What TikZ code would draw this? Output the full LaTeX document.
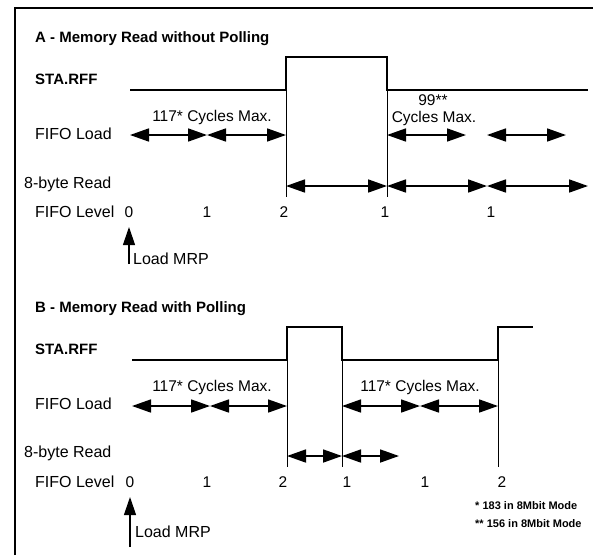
\documentclass[tikz,border=0pt]{standalone}
\usepackage{fontspec}
\setmainfont{Liberation Sans}
\usetikzlibrary{arrows.meta}
\begin{document}
\begin{tikzpicture}[x=1pt,y=-1pt,
  lbl/.style={anchor=west,inner sep=0pt,font=\fontsize{16}{18}\selectfont},
  ttl/.style={anchor=west,inner sep=0pt,font=\fontsize{15}{18}\selectfont\bfseries},
  num/.style={inner sep=0pt,font=\fontsize{15.5}{18}\selectfont},
  note/.style={anchor=west,inner sep=0pt,font=\fontsize{11}{12}\selectfont\bfseries},
  sig/.style={line width=1.6pt},
  guide/.style={line width=0.9pt},
  dim/.style={line width=1.7pt,{Triangle[length=19pt,width=13pt]}-{Triangle[length=19pt,width=13pt]}},
  upar/.style={line width=1.2pt,-{Triangle[length=18pt,width=12pt]}},
  frame/.style={line width=2.4pt}]
\useasboundingbox (0,0) rectangle (593,555);
% frame
\coordinate (f1) at (15,555);
\coordinate (f2) at (15,8);
\coordinate (f3) at (593,8);
\draw[frame] (f1) -- (f2) -- (f3);

% ---------------- Section A ----------------
\node[ttl] (tA) at (35,39) {A - Memory Read without Polling};
\node[ttl] (sA) at (35,79) {STA.RFF};
\node[lbl] (lA) at (35,134) {FIFO Load};
\node[lbl] (rA) at (24,184) {8-byte Read};
\node[lbl] (vA) at (35,212) {FIFO Level};

\coordinate (a0) at (130,90);
\coordinate (a1) at (286,90);
\coordinate (a2) at (286,57);
\coordinate (a3) at (387,57);
\coordinate (a4) at (387,90);
\coordinate (a5) at (588,90);
\draw[sig] (a0) -- (a1) -- (a2) -- (a3) -- (a4) -- (a5);
\coordinate (ga1) at (286,197);
\coordinate (ga2) at (387,197);
\draw[guide] (a1) -- (ga1);
\draw[guide] (a4) -- (ga2);

\coordinate (pa0) at (130,135);
\coordinate (pa1) at (207,135);
\coordinate (pa2) at (286,135);
\coordinate (pa3) at (387,135);
\coordinate (pa4) at (466,135);
\coordinate (pa5) at (487,135);
\coordinate (pa6) at (566,135);
\draw[dim] (pa0) -- (pa1);
\draw[dim] (pa1) -- (pa2);
\draw[dim] (pa3) -- (pa4);
\draw[dim] (pa5) -- (pa6);
\node[num] (cA1) at (212,117) {117* Cycles Max.};
\node[num] (cA2) at (433,100) {99**};
\node[num] (cA3) at (434,118) {Cycles Max.};

\coordinate (qa0) at (286,186);
\coordinate (qa1) at (387,186);
\coordinate (qa2) at (487,186);
\coordinate (qa3) at (588,186);
\draw[dim] (qa0) -- (qa1);
\draw[dim] (qa1) -- (qa2);
\draw[dim] (qa2) -- (qa3);

\node[num] (nA0) at (129,212) {0};
\node[num] (nA1) at (207,212) {1};
\node[num] (nA2) at (284,212) {2};
\node[num] (nA3) at (385,212) {1};
\node[num] (nA4) at (491,212) {1};

\coordinate (ma0) at (129,264);
\coordinate (ma1) at (129,227);
\draw[upar] (ma0) -- (ma1);
\node[lbl] (mA) at (133,259) {Load MRP};

% ---------------- Section B ----------------
\node[ttl] (tB) at (35,309) {B - Memory Read with Polling};
\node[ttl] (sB) at (35,349) {STA.RFF};
\node[lbl] (lB) at (35,404) {FIFO Load};
\node[lbl] (rB) at (24,453) {8-byte Read};
\node[lbl] (vB) at (35,482) {FIFO Level};

\coordinate (b0) at (132,360);
\coordinate (b1) at (287,360);
\coordinate (b2) at (287,327);
\coordinate (b3) at (342,327);
\coordinate (b4) at (342,360);
\coordinate (b5) at (498,360);
\coordinate (b6) at (498,327);
\coordinate (b7) at (533,327);
\draw[sig] (b0) -- (b1) -- (b2) -- (b3) -- (b4) -- (b5) -- (b6) -- (b7);
\coordinate (gb1) at (287,467);
\coordinate (gb2) at (342,467);
\coordinate (gb3) at (498,467);
\draw[guide] (b1) -- (gb1);
\draw[guide] (b4) -- (gb2);
\draw[guide] (b5) -- (gb3);

\coordinate (pb0) at (132,406);
\coordinate (pb1) at (210,406);
\coordinate (pb2) at (287,406);
\coordinate (pb3) at (342,406);
\coordinate (pb4) at (420,406);
\coordinate (pb5) at (498,406);
\draw[dim] (pb0) -- (pb1);
\draw[dim] (pb1) -- (pb2);
\draw[dim] (pb3) -- (pb4);
\draw[dim] (pb4) -- (pb5);
\node[num] (cB1) at (212,387) {117* Cycles Max.};
\node[num] (cB2) at (420,387) {117* Cycles Max.};

\coordinate (qb0) at (287,456);
\coordinate (qb1) at (342,456);
\coordinate (qb2) at (399,456);
\draw[dim] (qb0) -- (qb1);
\draw[dim] (qb1) -- (qb2);

\node[num] (nB0) at (130,482) {0};
\node[num] (nB1) at (207,482) {1};
\node[num] (nB2) at (283,482) {2};
\node[num] (nB3) at (347,482) {1};
\node[num] (nB4) at (425,482) {1};
\node[num] (nB5) at (502,482) {2};

\coordinate (mb0) at (130,547);
\coordinate (mb1) at (130,497);
\draw[upar] (mb0) -- (mb1);
\node[lbl] (mB) at (135,532) {Load MRP};

\node[note] (fn1) at (475,506) {* 183 in 8Mbit Mode};
\node[note] (fn2) at (475,524) {** 156 in 8Mbit Mode};
\end{tikzpicture}
\end{document}
